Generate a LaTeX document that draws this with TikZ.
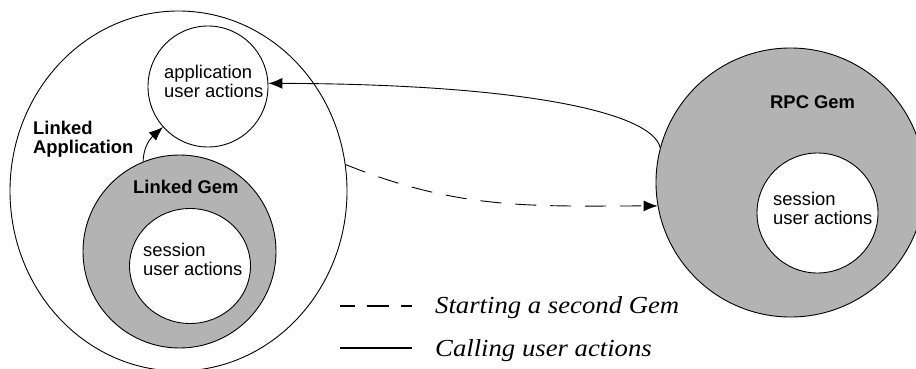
\documentclass[tikz,border=0pt]{standalone}
\usepackage{fontspec}
\setsansfont{Liberation Sans}
\newfontfamily\legfont[FakeStretch=1.09]{Liberation Serif}
\usetikzlibrary{shapes.geometric,arrows.meta}
\definecolor{gemgray}{RGB}{179,179,179}
\tikzset{
  ring/.style={ellipse,draw,line width=0.9pt,inner sep=0pt},
  lbl/.style={font=\sffamily\fontsize{18.4}{19}\selectfont,anchor=base west,align=left,inner sep=0pt},
  blbl/.style={lbl,font=\sffamily\bfseries\fontsize{18.4}{18.5}\selectfont},
  leg/.style={font=\legfont\itshape\fontsize{24.5}{26}\selectfont,anchor=base west,inner sep=0pt},
  conn/.style={line width=0.9pt,-{Latex[length=14pt,width=11pt]}},
  dashconn/.style={conn,dash pattern=on 21pt off 14pt},
  legline/.style={line width=2.8pt},
}
\begin{document}
\begin{tikzpicture}[x=1pt,y=-1pt]
\useasboundingbox[fill=white] (0,0) rectangle (916,369);
% left big ellipse
\node[ring,minimum width=337pt,minimum height=360pt] (linked) at (178.5,191) {};
\node[ring,minimum width=120pt,minimum height=121pt] (app) at (208,86.5) {};
\node[ring,fill=gemgray,minimum width=193pt,minimum height=193pt] (lgem) at (179.5,251.5) {};
\node[ring,fill=white,minimum width=121pt,minimum height=115pt] (lsess) at (190,266) {};
% right
\node[ring,fill=gemgray,minimum width=269pt,minimum height=269pt] (rpc) at (790.5,182.5) {};
\node[ring,fill=white,minimum width=121pt,minimum height=120pt] (rsess) at (817.5,213) {};
% texts (base = last line)
\node[lbl] (tapp) at (164,98) {application\\user actions};
\node[blbl] (tlinked) at (33,153) {Linked\\Application};
\node[blbl] (tlgem) at (133,193) {Linked Gem};
\node[lbl] (tlsess) at (143,275) {session\\user actions};
\node[blbl] (trpc) at (770,109) {RPC Gem};
\node[lbl] (trsess) at (773,224) {session\\user actions};
% connectors
\draw[conn] (lgem.112) to[out=90,in=222] (app.222);
\draw[conn] (rpc.165) .. controls (652,112) and (520,84) .. (app.3);
\draw[dashconn] (linked.9.5) to[out=-22,in=180] (rpc.190);
% legend
\coordinate (d1) at (340,306);
\coordinate (d2) at (412,306);
\coordinate (s1) at (340,348);
\coordinate (s2) at (412,348);
\draw[legline,dash pattern=on 22pt off 12pt,dash phase=7pt] (d1) -- (d2);
\draw[legline] (s1) -- (s2);
\node[leg] (l1) at (435,313) {Starting a second Gem};
\node[leg] (l2) at (435,356) {Calling user actions};
\end{tikzpicture}
\end{document}
